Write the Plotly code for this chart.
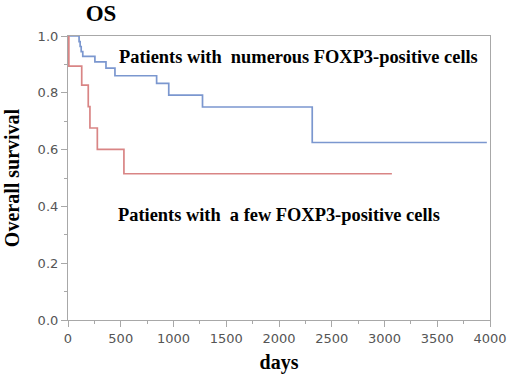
import plotly.graph_objects as go

# Kaplan-Meier step data (days, overall survival)
numerous_days = [0, 105, 115, 125, 140, 255, 360, 445, 840, 955, 1275, 2315, 3970]
numerous_surv = [1.0, 0.98, 0.963, 0.945, 0.928, 0.909, 0.887, 0.86, 0.833, 0.792, 0.75, 0.625, 0.625]

few_days = [0, 8, 130, 192, 208, 278, 530, 3070]
few_surv = [1.0, 0.894, 0.827, 0.751, 0.676, 0.601, 0.515, 0.515]

x_ticks = [0, 500, 1000, 1500, 2000, 2500, 3000, 3500, 4000]
y_ticks = [0.0, 0.2, 0.4, 0.6, 0.8, 1.0]

serif = "Liberation Serif"
tickfont = dict(family="DejaVu Sans", size=13, color="#555555")
axcol = "#a8a8a8"

W, H = 520, 383
L, R, T, B = 68, 30, 36, 63
pw, ph = W - L - R, H - T - B

def px(x):
    return (x - L) / pw

def py(y):
    return 1 - (y - T) / ph

fig = go.Figure()
fig.add_trace(go.Scatter(x=numerous_days, y=numerous_surv, mode="lines",
                         line=dict(shape="hv", color="#7b97cf", width=1.7),
                         showlegend=False, hoverinfo="skip"))
fig.add_trace(go.Scatter(x=few_days, y=few_surv, mode="lines",
                         line=dict(shape="hv", color="#d98585", width=1.7),
                         showlegend=False, hoverinfo="skip"))

fig.update_layout(
    width=W, height=H,
    margin=dict(l=L, r=R, t=T, b=B, autoexpand=False),
    paper_bgcolor="white", plot_bgcolor="white",
    title=dict(text="<b>OS</b>", x=101/W, xanchor="center", y=1-13/H, yanchor="middle",
               font=dict(family=serif, size=23, color="black")),
    xaxis=dict(range=[0, 4000], tickvals=x_ticks, ticktext=[str(v) for v in x_ticks],
               showgrid=False, zeroline=False, showline=True, linecolor=axcol, linewidth=1.2,
               mirror=True, ticks="outside", ticklen=6, tickcolor=axcol, tickfont=tickfont,
               minor=dict(ticks="outside", ticklen=3, tickcolor=axcol, dtick=250, showgrid=False),
               title=dict(text="<b>days</b>", font=dict(family=serif, size=20, color="black"), standoff=10)),
    yaxis=dict(range=[0, 1.0], tickvals=y_ticks, ticktext=["%.1f" % v for v in y_ticks],
               showgrid=False, zeroline=False, showline=True, linecolor=axcol, linewidth=1.2,
               mirror=True, ticks="outside", ticklen=6, tickcolor=axcol, tickfont=tickfont,
               minor=dict(ticks="outside", ticklen=3, tickcolor=axcol, dtick=0.1, showgrid=False),
               title=dict(text="<b>Overall survival</b>", font=dict(family=serif, size=20, color="black"), standoff=12)),
)

fig.add_annotation(x=px(117), y=py(57), xref="paper", yref="paper", xanchor="left", yanchor="middle",
                   text="<b>Patients with  numerous FOXP3-positive cells</b>", showarrow=False,
                   font=dict(family=serif, size=18.4, color="black"))
fig.add_annotation(x=px(116), y=py(215), xref="paper", yref="paper", xanchor="left", yanchor="middle",
                   text="<b>Patients with  a few FOXP3-positive cells</b>", showarrow=False,
                   font=dict(family=serif, size=18.4, color="black"))

fig.write_html("out.html", config={"displayModeBar": False},
               post_script="document.body.style.margin='0';document.body.style.padding='0';")
